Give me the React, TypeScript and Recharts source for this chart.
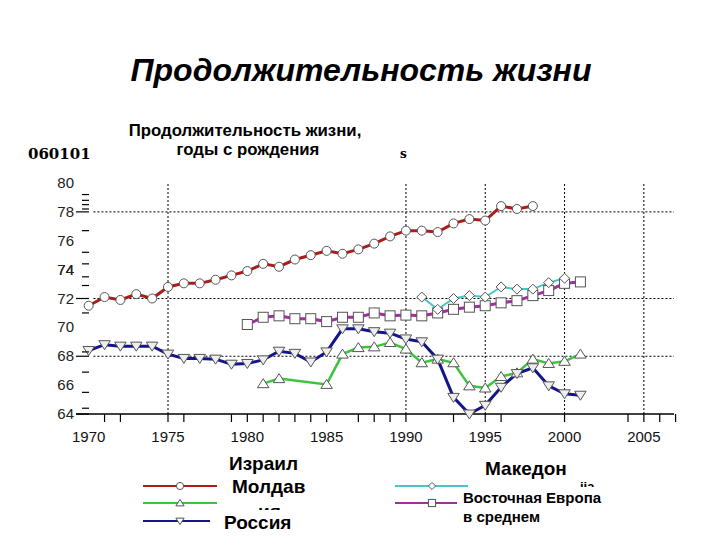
import { Line, LineChart, ReferenceLine, XAxis, YAxis } from "recharts";

// years on the x axis
const years = [
  1970, 1971, 1972, 1973, 1974, 1975, 1976, 1977, 1978, 1979, 1980, 1981, 1982,
  1983, 1984, 1985, 1986, 1987, 1988, 1989, 1990, 1991, 1992, 1993, 1994, 1995,
  1996, 1997, 1998, 1999, 2000, 2001,
];

// life expectancy, years (each series starts at its own year)
const israelStart = 1970;
const israel = [
  71.5, 72.1, 71.9, 72.3, 72.0, 72.8, 73.05, 73.05, 73.3, 73.6, 73.9, 74.4, 74.2,
  74.7, 75.0, 75.3, 75.1, 75.4, 75.8, 76.3, 76.7, 76.7, 76.6, 77.2, 77.5, 77.4,
  78.4, 78.2, 78.4,
];
const macedoniaStart = 1991;
const macedonia = [72.1, 71.25, 72.0, 72.2, 72.1, 72.8, 72.65, 72.65, 73.1, 73.4];
const moldovaStart = 1981;
const moldova = [
  66.1, 66.45, null, null, 66.05, 68.15, 68.6, 68.65, 68.95, 68.5, 67.55, 67.8,
  67.55, 65.95, 65.8, 66.6, 66.85, 67.8, 67.5, 67.65, 68.15,
];
const russiaStart = 1970;
const russia = [
  68.4, 68.8, 68.7, 68.7, 68.7, 68.15, 67.85, 67.85, 67.8, 67.45, 67.5, 67.75,
  68.35, 68.2, 67.6, 68.3, 69.9, 69.9, 69.7, 69.6, 69.2, 69.0, 67.8, 65.15, 64.0,
  64.6, 65.85, 66.8, 67.2, 65.95, 65.4, 65.3,
];
const eastEuropeStart = 1980;
const eastEurope = [
  70.2, 70.7, 70.8, 70.6, 70.6, 70.4, 70.7, 70.7, 71.0, 70.8, 70.85, 70.8, 71.0,
  71.25, 71.4, 71.5, 71.7, 71.85, 72.2, 72.55, 73.05, 73.15,
];

// axis ticks
const xLabelYears = [1970, 1975, 1980, 1985, 1990, 1995, 2000, 2005];
const xMinorYears = [
  1971, 1972, 1975, 1976, 1979, 1980, 1981, 1982, 1983, 1984, 1985, 1987, 1988,
  1989, 1990, 1993, 1995, 1996, 2000, 2004, 2005, 2006, 2007,
];
const yLabels = [64, 66, 68, 70, 72, 74, 76, 78, 80];
const yLongTicks = [64, 68, 72, 78];
const yMinorTicks = [
  64.4, 65.5, 66.9, 68.3, 71.0, 72.9, 73.5, 74.0, 74.4, 75.2, 76.7, 78.2, 78.5,
  78.8, 79.2,
];
const gridYears = [1975, 1990, 1995, 2000, 2005];
const gridValues = [78, 72, 68];

type Shape = "circle" | "up" | "down" | "diamond" | "square";

const series = [
  { key: "eastEurope", start: eastEuropeStart, values: eastEurope, color: "#a32ea3", width: 3, shape: "square" as Shape },
  { key: "macedonia", start: macedoniaStart, values: macedonia, color: "#46c6c6", width: 2, shape: "diamond" as Shape },
  { key: "moldova", start: moldovaStart, values: moldova, color: "#3cc43c", width: 2.5, shape: "up" as Shape },
  { key: "russia", start: russiaStart, values: russia, color: "#15158a", width: 3, shape: "down" as Shape },
  { key: "israel", start: israelStart, values: israel, color: "#ac1c1c", width: 3, shape: "circle" as Shape },
];

const data = years.map((year) => {
  const row: Record<string, number | null> = { year };
  series.forEach((s) => {
    const v = s.values[year - s.start];
    row[s.key] = v === undefined ? null : v;
  });
  return row;
});

const Marker = ({ cx, cy, shape, r, fill }: { cx: number; cy: number; shape: Shape; r: number; fill: string }) => {
  const st = { fill, stroke: "#555", strokeWidth: 1 };
  if (shape === "circle") return <circle cx={cx} cy={cy} r={r} {...st} />;
  if (shape === "square") return <rect x={cx - r} y={cy - r} width={r * 2} height={r * 2} {...st} />;
  if (shape === "diamond")
    return <polygon points={`${cx},${cy - r} ${cx + r},${cy} ${cx},${cy + r} ${cx - r},${cy}`} {...st} />;
  if (shape === "up")
    return <polygon points={`${cx},${cy - r} ${cx + r * 1.15},${cy + r * 0.8} ${cx - r * 1.15},${cy + r * 0.8}`} {...st} />;
  return <polygon points={`${cx},${cy + r} ${cx + r * 1.15},${cy - r * 0.8} ${cx - r * 1.15},${cy - r * 0.8}`} {...st} />;
};

const XTick = (props: any) => {
  const { x, y, payload } = props;
  const v = payload.value;
  return (
    <g>
      {xMinorYears.includes(v) && <line x1={x} x2={x} y1={y} y2={y + 8} stroke="#000" strokeWidth={1.2} />}
      {xLabelYears.includes(v) && (
        <text x={x} y={y + 28} textAnchor="middle" fontSize={15} fill="#111" fontFamily="Liberation Sans, Arial">
          {v}
        </text>
      )}
    </g>
  );
};

const YTick = (props: any) => {
  const { x, y, payload } = props;
  const v = payload.value;
  const label = yLabels.includes(v);
  const long = yLongTicks.includes(v);
  return (
    <g>
      {label && (
        <text x={x - 2} y={y + 5} textAnchor="end" fontSize={15} fill="#222" fontFamily="Liberation Sans, Arial">
          {v}
        </text>
      )}
      {long && <line x1={x} x2={x + 13} y1={y} y2={y} stroke="#000" strokeWidth={1.2} />}
      {!label && <line x1={x + 6} x2={x + 13} y1={y} y2={y} stroke="#000" strokeWidth={1.2} />}
    </g>
  );
};

const sans = "Liberation Sans, Arial, sans-serif";

const LegendItem = ({ x1, x2, y, color, shape }: { x1: number; x2: number; y: number; color: string; shape: Shape }) => (
  <g>
    <line x1={x1} x2={x2} y1={y} y2={y} stroke={color} strokeWidth={2} />
    <Marker cx={x1 + 37} cy={y} shape={shape} r={3.6} fill="#fff" />
  </g>
);

export default function App() {
  const byKey = Object.fromEntries(series.map((s) => [s.key, s]));
  return (
    <div style={{ position: "absolute", left: 0, top: 0, width: 720, height: 540, background: "#fff" }}>
      <LineChart width={720} height={540} data={data} margin={{ top: 183, right: 46, bottom: 86, left: 16 }}>
        <XAxis
          dataKey="year"
          type="number"
          domain={[1969.2, 2006.9]}
          ticks={[...new Set([...xLabelYears, ...xMinorYears])].sort((a, b) => a - b)}
          interval={0}
          tick={<XTick />}
          tickLine={false}
          tickSize={0}
          tickMargin={0}
          height={40}
          axisLine={{ stroke: "#000", strokeWidth: 1.5 }}
        />
        <YAxis
          type="number"
          domain={[64, 80]}
          ticks={[...yLabels, ...yMinorTicks].sort((a, b) => a - b)}
          interval={0}
          tick={<YTick />}
          tickLine={false}
          tickSize={0}
          tickMargin={0}
          width={60}
          axisLine={false}
        />
        {gridYears.map((yr) => (
          <ReferenceLine key={"gx" + yr} x={yr} stroke="#000" strokeDasharray="2 2" />
        ))}
        {gridValues.map((v) => (
          <ReferenceLine
            key={"gy" + v}
            segment={[
              { x: 1970.3, y: v },
              { x: 2006.9, y: v },
            ]}
            stroke="#000"
            strokeDasharray="2 2"
          />
        ))}
        {series.map((s) => (
          <Line
            key={s.key}
            dataKey={s.key}
            stroke={s.color}
            strokeWidth={s.width}
            connectNulls
            isAnimationActive={false}
            dot={(p: any) =>
              p.cy == null || p.value == null ? (
                <g key={s.key + p.index} />
              ) : (
                <Marker
                  key={s.key + p.index}
                  cx={p.cx}
                  cy={p.cy}
                  shape={s.shape}
                  r={s.shape === "circle" ? 4.5 : 5}
                  fill={s.shape === "down" ? "#eee" : "#fff"}
                />
              )
            }
          />
        ))}
      </LineChart>

      <svg width={720} height={540} style={{ position: "absolute", left: 0, top: 0, pointerEvents: "none" }}>
        <defs>
          <clipPath id="clipMold">
            <rect x={220} y={495} width={100} height={15} />
          </clipPath>
          <clipPath id="clipMac">
            <rect x={480} y={478} width={140} height={9} />
          </clipPath>
        </defs>
        <text x={361} y={81} textAnchor="middle" fontFamily={sans} fontWeight="bold" fontStyle="italic" fontSize={32}>
          Продолжительность жизни
        </text>
        <text x={28} y={159} fontFamily="DejaVu Serif, serif" fontWeight="bold" fontSize={15}>
          060101
        </text>
        <text x={400} y={158} fontFamily="DejaVu Serif, serif" fontWeight="bold" fontSize={12}>
          s
        </text>
        <text x={245} y={136} textAnchor="middle" fontFamily={sans} fontWeight="bold" fontSize={16.8}>
          Продолжительность жизни,
        </text>
        <text x={248} y={155} textAnchor="middle" fontFamily={sans} fontWeight="bold" fontSize={16.8}>
          годы с рождения
        </text>

        <LegendItem x1={143} x2={217} y={486} color={byKey.israel.color} shape="circle" />
        <LegendItem x1={143} x2={217} y={503} color={byKey.moldova.color} shape="up" />
        <LegendItem x1={143} x2={210} y={521} color={byKey.russia.color} shape="down" />
        <LegendItem x1={395} x2={468} y={486} color={byKey.macedonia.color} shape="diamond" />
        <LegendItem x1={395} x2={457} y={503} color={byKey.eastEurope.color} shape="square" />

        <g fontFamily={sans} fontWeight="bold" fill="#000">
          <text x={229} y={470} fontSize={19}>Израил</text>
          <text x={232} y={493} fontSize={19}>Молдав</text>
          <text x={258} y={518} fontSize={19} clipPath="url(#clipMold)">ия</text>
          <text x={224} y={529} fontSize={19}>Россия</text>

          <text x={485} y={475} fontSize={19}>Македон</text>
          <text x={501} y={497} fontSize={19} clipPath="url(#clipMac)">ия</text>
          <text x={580} y={491} fontSize={13} clipPath="url(#clipMac)">iia</text>
          <text x={463} y={503} fontSize={15}>Восточная Европа</text>
          <text x={463} y={522} fontSize={15}>в среднем</text>
        </g>
      </svg>
    </div>
  );
}
